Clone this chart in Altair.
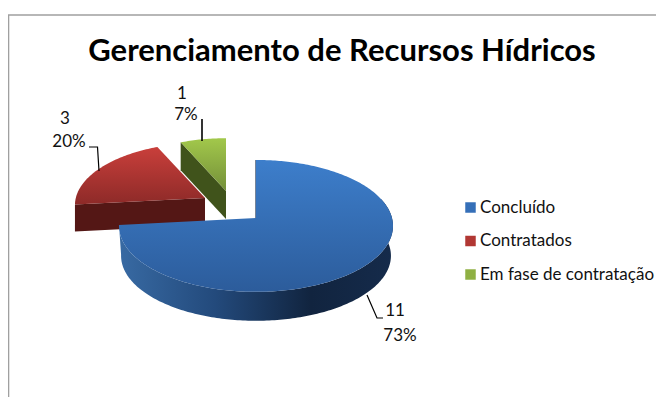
import math
import altair as alt

categories = ["Concluído", "Contratados", "Em fase de contratação"]
values = [11, 3, 1]
flat_colors = ["#356fb8", "#b13733", "#8fb043"]

TITLE = "Gerenciamento de Recursos Hídricos"
FONT = "Lato"

# view of the tilted pie: semi-axes, perspective and depth
B, A, K = 136.0, 65.0, 0.12
total = sum(values)
sweeps = [v / total * 360 for v in values]
starts = [0, sweeps[0], sweeps[0] + sweeps[1]]


def pt(apex, r, deg, dy=0.0, s=1.0):
    t = math.radians(deg)
    X, Y = r * math.sin(t), r * math.cos(t)
    w = 1 + K * Y
    return [apex[0] + s * B * X / w, apex[1] - s * A * Y / w + dy]


def arc(apex, r, a0, a1, dy=0.0, s=1.0):
    n = max(4, int(abs(a1 - a0)))
    return [pt(apex, r, a0 + (a1 - a0) * i / n, dy, s) for i in range(n + 1)]


def poly(points, **mark):
    ring = points + [points[0]]
    feat = {"type": "Feature", "properties": {}, "geometry": {"type": "Polygon", "coordinates": [ring]}}
    return alt.Chart(alt.Data(values=[feat])).mark_geoshape(**mark).project(
        type="identity", scale=1, translate=[-8, -8])


def line(points, color, width):
    feat = {"type": "Feature", "properties": {}, "geometry": {"type": "LineString", "coordinates": points}}
    return alt.Chart(alt.Data(values=[feat])).mark_geoshape(
        filled=False, stroke=color, strokeWidth=width).project(
        type="identity", scale=1, translate=[-8, -8])


def vgrad(c0, c1):
    return {"gradient": "linear", "x1": 0, "y1": 0, "x2": 0, "y2": 1,
            "stops": [{"offset": 0, "color": c0}, {"offset": 1, "color": c1}]}


side_grad = {"gradient": "linear", "x1": 0, "y1": 0, "x2": 1, "y2": 0,
             "stops": [{"offset": 0, "color": "#386aa3"}, {"offset": 0.35, "color": "#234a7c"},
                       {"offset": 0.7, "color": "#11243f"}, {"offset": 1, "color": "#152b4b"}]}

blue_apex = (256, 218)
red_apex = (205, 198)
green_apex = (226, 191)
DEPTH_B, DEPTH_R, DEPTH_G = 30, 27, 28
R_B, R_R, R_G = 1.0, 0.95, 0.9

layers = []
# frame
layers.append(line([[8.5, 405], [8.5, 15], [664, 15]], "#a0a0a0", 1.6))

# green slice
g0, g1 = starts[2], starts[2] + sweeps[2]
layers.append(poly([list(green_apex), pt(green_apex, R_G, g0), pt(green_apex, R_G, g0, DEPTH_G),
                    pt(green_apex, 0, g0, DEPTH_G)], fill="#40531b", strokeWidth=0))
layers.append(poly([list(green_apex)] + arc(green_apex, R_G, g0, g1),
                   fill=vgrad("#a2c84b", "#748f39"), strokeWidth=0))

# red slice
r0, r1 = starts[1], starts[1] + sweeps[1]
layers.append(poly([list(red_apex), pt(red_apex, R_R, r0), pt(red_apex, R_R, r0, DEPTH_R),
                    pt(red_apex, 0, r0, DEPTH_R)], fill="#541715", strokeWidth=0))
layers.append(poly([list(red_apex)] + arc(red_apex, R_R, r0, r1),
                   fill=vgrad("#c93f3b", "#8d2a28"), strokeWidth=0))

# blue slice
b0, b1 = starts[0], starts[0] + sweeps[0]
layers.append(poly(arc(blue_apex, R_B, 72, b1) + arc(blue_apex, R_B, b1, 72, DEPTH_B, 0.985),
                   fill=side_grad, strokeWidth=0))
layers.append(line([pt(blue_apex, R_B, 0), list(blue_apex), [blue_apex[0], blue_apex[1] + 1]], "#1b3354", 1.2))
layers.append(poly([list(blue_apex)] + arc(blue_apex, R_B, b0, b1),
                   fill=vgrad("#3d7ecb", "#2c5c9b"), strokeWidth=0))

# leader lines
layers.append(line([[202, 119], [202, 141]], "#000000", 1.6))
layers.append(line([[89, 147], [97.5, 147], [99, 171]], "#000000", 1.2))
layers.append(line([[367, 295], [377, 318], [383, 318]], "#000000", 1.2))

# data labels
pct = [f"{round(v / total * 100)}%" for v in values]
label_rows = [
    {"x": 395 - 8, "y": 311 - 8, "t": str(values[0])},
    {"x": 400 - 8, "y": 336 - 8, "t": pct[0]},
    {"x": 65 - 8, "y": 119 - 8, "t": str(values[1])},
    {"x": 69 - 8, "y": 142 - 8, "t": pct[1]},
    {"x": 182 - 8, "y": 94 - 8, "t": str(values[2])},
    {"x": 186 - 8, "y": 115 - 8, "t": pct[2]},
]
layers.append(alt.Chart(alt.Data(values=label_rows)).mark_text(
    font=FONT, fontSize=17, color="#111111", align="center", baseline="middle"
).encode(x=alt.X("x:Q", scale=None, axis=None), y=alt.Y("y:Q", scale=None, axis=None), text="t:N"))

# title
layers.append(alt.Chart(alt.Data(values=[{"x": 342 - 8, "y": 52 - 8, "t": TITLE}])).mark_text(
    font=FONT, fontSize=31, fontWeight="bold", color="#000000", align="center", baseline="middle"
).encode(x=alt.X("x:Q", scale=None, axis=None), y=alt.Y("y:Q", scale=None, axis=None), text="t:N"))

# legend
legend_rows = [{"c": c, "x": 0, "y": 0} for c in categories]
layers.append(alt.Chart(alt.Data(values=legend_rows)).mark_square(size=0, opacity=1).encode(
    x=alt.X("x:Q", scale=None, axis=None), y=alt.Y("y:Q", scale=None, axis=None),
    color=alt.Color("c:N", scale=alt.Scale(domain=categories, range=flat_colors),
                    legend=alt.Legend(title=None, orient="none", legendX=454, legendY=191,
                                      symbolType="square", symbolSize=110, symbolStrokeWidth=0,
                                      labelFont=FONT, labelFontSize=17, labelColor="#111111",
                                      labelLimit=300, rowPadding=15.5, labelOffset=1))))

chart = alt.layer(*layers).properties(
    width=648, height=389, padding=0, autosize=alt.AutoSizeParams(type="none"), background="white"
).configure_view(stroke=None)

chart.save("out.html", embed_options={"renderer": "svg", "actions": False})
